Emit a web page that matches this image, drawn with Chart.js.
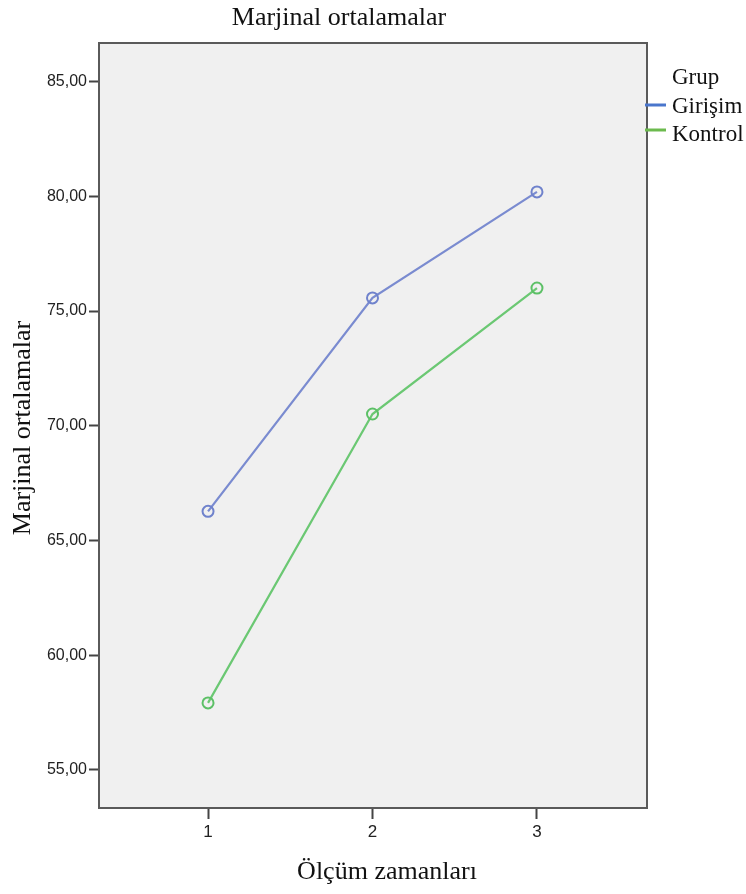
<!DOCTYPE html>
<html>
<head>
<meta charset="utf-8">
<script src="https://cdn.jsdelivr.net/npm/chart.js@4/dist/chart.umd.min.js"></script>
<style>
  html, body { margin: 0; padding: 0; background: #fff; }
  #wrap { width: 746px; height: 894px; position: relative; }
</style>
</head>
<body>
<div id="wrap"><canvas id="chart"></canvas></div>
<script>
const times = [1, 2, 3];
const girisim = [66.27, 75.57, 80.19];
const kontrol = [57.92, 70.51, 76.0];
const yTicks = [55, 60, 65, 70, 75, 80, 85];
const groups = ['Girişim', 'Kontrol'];

const serif = "'Liberation Serif', 'Times New Roman', serif";
const sans = "'Liberation Sans', Arial, sans-serif";

// plot background, frame, titles and legend
const decor = {
  id: 'decor',
  beforeDraw(chart) {
    const { ctx, chartArea: a } = chart;
    ctx.save();
    ctx.fillStyle = '#f0f0f0';
    ctx.fillRect(a.left, a.top, a.right - a.left, a.bottom - a.top);
    ctx.restore();
  },
  afterDraw(chart) {
    const { ctx, chartArea: a } = chart;
    ctx.save();
    ctx.strokeStyle = '#5a5a5a';
    ctx.lineWidth = 2;
    ctx.strokeRect(a.left, a.top, a.right - a.left, a.bottom - a.top);

    ctx.fillStyle = '#111';
    ctx.font = `26px ${serif}`;
    ctx.textAlign = 'center';
    ctx.textBaseline = 'alphabetic';
    ctx.fillText('Marjinal ortalamalar', 339, 25);
    ctx.fillText('Ölçüm zamanları', 387, 879);

    ctx.save();
    ctx.translate(30, 428);
    ctx.rotate(-Math.PI / 2);
    ctx.fillText('Marjinal ortalamalar', 0, 0);
    ctx.restore();

    // legend
    ctx.font = `23px ${serif}`;
    ctx.textAlign = 'left';
    ctx.fillText('Grup', 672, 84);
    const swatch = ['#4a76cc', '#6cba4e'];
    chart.data.datasets.forEach((ds, i) => {
      const y = 105 + i * 25;
      ctx.strokeStyle = swatch[i];
      ctx.lineWidth = 3;
      ctx.beginPath();
      ctx.moveTo(645, y);
      ctx.lineTo(666, y);
      ctx.stroke();
      ctx.fillStyle = '#111';
      ctx.fillText(ds.label, 672, y + 8 + i * 3);
    });
    ctx.restore();
  }
};

new Chart(document.getElementById('chart'), {
  type: 'line',
  data: {
    datasets: [
      {
        label: groups[0],
        data: times.map((t, i) => ({ x: t, y: girisim[i] })),
        borderColor: '#7a8bd0',
        borderWidth: 2.2,
        pointRadius: 5.5,
        pointBorderWidth: 2,
        pointBackgroundColor: 'rgba(0,0,0,0)',
        pointBorderColor: '#6f82cc',
        tension: 0,
      },
      {
        label: groups[1],
        data: times.map((t, i) => ({ x: t, y: kontrol[i] })),
        borderColor: '#6bc873',
        borderWidth: 2.2,
        pointRadius: 5.5,
        pointBorderWidth: 2,
        pointBackgroundColor: 'rgba(0,0,0,0)',
        pointBorderColor: '#5cc066',
        tension: 0,
      },
    ],
  },
  options: {
    responsive: true,
    maintainAspectRatio: false,
    animation: false,
    layout: { padding: { top: 43, right: 99, left: 0, bottom: 0 } },
    plugins: {
      legend: { display: false },
      title: { display: false },
      tooltip: { enabled: false },
    },
    scales: {
      x: {
        type: 'linear',
        min: 0.337,
        max: 3.669,
        afterBuildTicks: s => { s.ticks = times.map(v => ({ value: v })); },
        afterFit: s => { s.height = 86; },
        grid: { drawOnChartArea: false, drawTicks: true, tickLength: 11, tickColor: '#444', tickWidth: 2 },
        border: { display: true, color: '#5a5a5a', width: 2 },
        ticks: { color: '#222', font: { family: sans, size: 17 }, padding: 3, callback: v => String(v) },
      },
      y: {
        min: 53.34,
        max: 86.68,
        afterBuildTicks: s => { s.ticks = yTicks.map(v => ({ value: v })); },
        afterFit: s => { s.width = 99; },
        grid: { drawOnChartArea: false, drawTicks: true, tickLength: 10, tickColor: '#444', tickWidth: 2 },
        border: { display: true, color: '#5a5a5a', width: 2 },
        ticks: { color: '#222', font: { family: sans, size: 16 }, padding: 2, callback: v => v.toFixed(2).replace('.', ',') },
      },
    },
  },
  plugins: [decor],
});
</script>
</body>
</html>
